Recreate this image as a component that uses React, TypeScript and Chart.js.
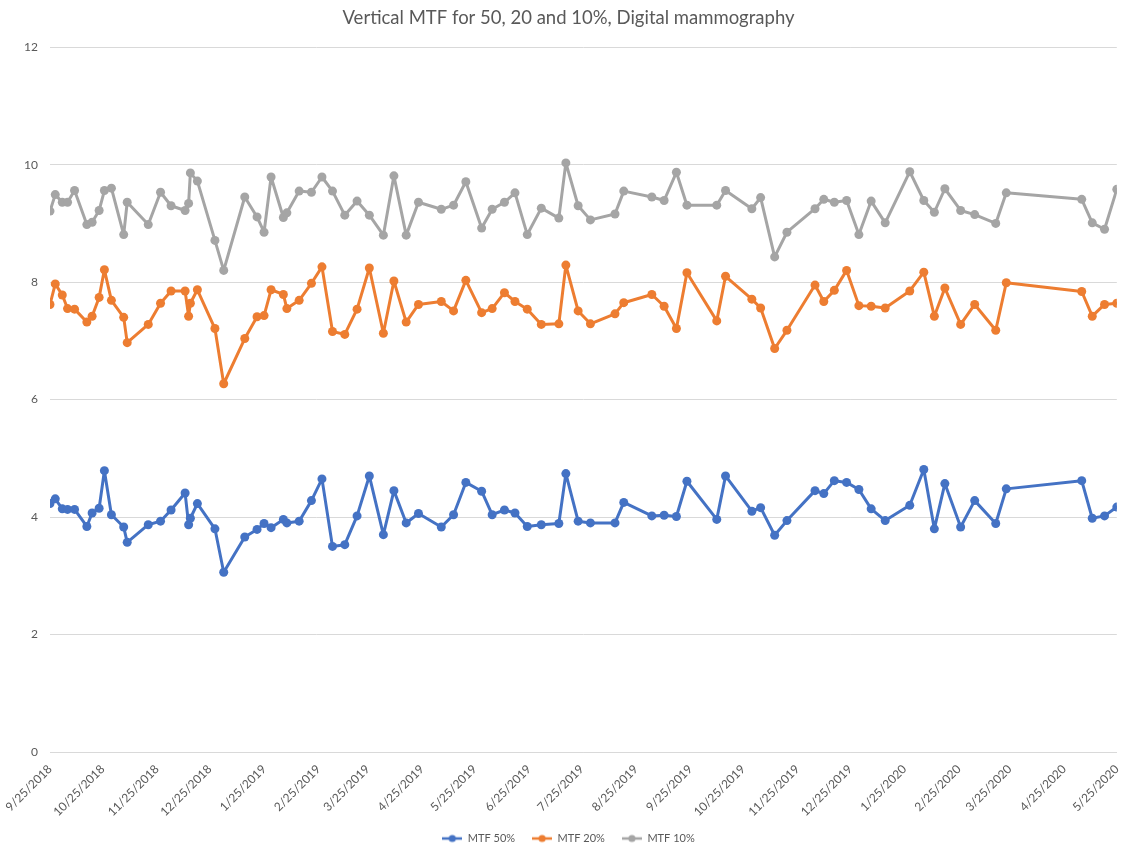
import React, { useEffect, useRef } from "react";
import { Chart, registerables } from "chart.js";

Chart.register(...registerables);

const START_DATE = "2018-09-25";

const DATES = [
  "2018-09-25", "2018-09-28", "2018-10-02", "2018-10-05", "2018-10-09", "2018-10-16", "2018-10-19", "2018-10-23",
  "2018-10-26", "2018-10-30", "2018-11-06", "2018-11-08", "2018-11-20", "2018-11-27", "2018-12-03", "2018-12-11",
  "2018-12-13", "2018-12-14", "2018-12-18", "2018-12-28", "2019-01-02", "2019-01-14", "2019-01-21", "2019-01-25",
  "2019-01-29", "2019-02-05", "2019-02-07", "2019-02-14", "2019-02-21", "2019-02-27", "2019-03-05", "2019-03-12",
  "2019-03-19", "2019-03-26", "2019-04-03", "2019-04-09", "2019-04-16", "2019-04-23", "2019-05-06", "2019-05-13",
  "2019-05-20", "2019-05-29", "2019-06-04", "2019-06-11", "2019-06-17", "2019-06-24", "2019-07-02", "2019-07-12",
  "2019-07-16", "2019-07-23", "2019-07-30", "2019-08-13", "2019-08-18", "2019-09-03", "2019-09-10", "2019-09-17",
  "2019-09-23", "2019-10-10", "2019-10-15", "2019-10-30", "2019-11-04", "2019-11-12", "2019-11-19", "2019-12-05",
  "2019-12-10", "2019-12-16", "2019-12-23", "2019-12-30", "2020-01-06", "2020-01-14", "2020-01-28", "2020-02-05",
  "2020-02-11", "2020-02-17", "2020-02-26", "2020-03-05", "2020-03-17", "2020-03-23", "2020-05-05", "2020-05-11",
  "2020-05-18", "2020-05-25",
];

const MTF50 = [
  4.23, 4.31, 4.14, 4.13, 4.13, 3.84, 4.07, 4.15, 4.79, 4.04, 3.83, 3.57, 3.87, 3.93, 4.12, 4.41,
  3.87, 3.98, 4.23, 3.80, 3.06, 3.66, 3.79, 3.89, 3.82, 3.96, 3.90, 3.93, 4.28, 4.65, 3.50, 3.53,
  4.02, 4.70, 3.70, 4.45, 3.90, 4.06, 3.83, 4.04, 4.59, 4.44, 4.04, 4.12, 4.07, 3.84, 3.87, 3.89,
  4.74, 3.93, 3.90, 3.90, 4.25, 4.02, 4.03, 4.01, 4.61, 3.96, 4.70, 4.10, 4.16, 3.69, 3.94, 4.45,
  4.40, 4.62, 4.59, 4.47, 4.14, 3.94, 4.20, 4.81, 3.80, 4.57, 3.83, 4.28, 3.89, 4.48, 4.62, 3.98,
  4.02, 4.17,
];

const MTF20 = [
  7.62, 7.97, 7.78, 7.55, 7.54, 7.32, 7.42, 7.74, 8.21, 7.69, 7.40, 6.97, 7.28, 7.64, 7.85, 7.85,
  7.42, 7.64, 7.87, 7.21, 6.27, 7.04, 7.41, 7.43, 7.87, 7.79, 7.55, 7.69, 7.98, 8.26, 7.16, 7.11,
  7.54, 8.24, 7.13, 8.02, 7.32, 7.62, 7.67, 7.51, 8.03, 7.48, 7.55, 7.82, 7.67, 7.54, 7.28, 7.29,
  8.29, 7.51, 7.29, 7.46, 7.65, 7.79, 7.59, 7.21, 8.16, 7.34, 8.10, 7.71, 7.56, 6.87, 7.18, 7.95,
  7.67, 7.86, 8.20, 7.60, 7.59, 7.56, 7.85, 8.17, 7.42, 7.90, 7.28, 7.62, 7.18, 7.99, 7.84, 7.42,
  7.62, 7.64,
];

const MTF10 = [
  9.21, 9.49, 9.36, 9.36, 9.56, 8.98, 9.02, 9.22, 9.56, 9.60, 8.81, 9.36, 8.98, 9.53, 9.30, 9.22,
  9.34, 9.86, 9.72, 8.71, 8.20, 9.45, 9.11, 8.85, 9.79, 9.10, 9.18, 9.55, 9.53, 9.79, 9.55, 9.14,
  9.38, 9.14, 8.80, 9.81, 8.80, 9.36, 9.24, 9.31, 9.71, 8.92, 9.24, 9.36, 9.52, 8.81, 9.26, 9.09,
  10.03, 9.30, 9.06, 9.16, 9.55, 9.45, 9.39, 9.87, 9.31, 9.31, 9.56, 9.25, 9.44, 8.43, 8.85, 9.25,
  9.41, 9.36, 9.39, 8.81, 9.38, 9.01, 9.88, 9.39, 9.19, 9.59, 9.22, 9.15, 9.00, 9.52, 9.41, 9.01,
  8.90, 9.58,
];

const TICK_DATES = [
  "2018-09-25", "2018-10-25", "2018-11-25", "2018-12-25", "2019-01-25", "2019-02-25", "2019-03-25",
  "2019-04-25", "2019-05-25", "2019-06-25", "2019-07-25", "2019-08-25", "2019-09-25", "2019-10-25",
  "2019-11-25", "2019-12-25", "2020-01-25", "2020-02-25", "2020-03-25", "2020-04-25", "2020-05-25",
];

const Y_TICKS = [0, 2, 4, 6, 8, 10, 12];

const SERIES_NAMES = ["MTF 50%", "MTF 20%", "MTF 10%"];
const SERIES_COLORS = ["#4472C4", "#ED7D31", "#A5A5A5"];

const TITLE = "Vertical MTF for 50, 20 and 10%, Digital mammography";

const DAY_MS = 86400000;
function parseUTC(s: string) {
  const [y, m, d] = s.split("-").map(Number);
  return Date.UTC(y, m - 1, d);
}
const START_MS = parseUTC(START_DATE);
function toDay(s: string) {
  return Math.round((parseUTC(s) - START_MS) / DAY_MS);
}
function formatDay(day: number) {
  const dt = new Date(START_MS + day * DAY_MS);
  return `${dt.getUTCMonth() + 1}/${dt.getUTCDate()}/${dt.getUTCFullYear()}`;
}

function legendMarker(color: string) {
  const c = document.createElement("canvas");
  c.width = 20;
  c.height = 10;
  const ctx = c.getContext("2d")!;
  ctx.strokeStyle = color;
  ctx.lineWidth = 2.5;
  ctx.beginPath();
  ctx.moveTo(0, 5);
  ctx.lineTo(20, 5);
  ctx.stroke();
  ctx.fillStyle = color;
  ctx.beginPath();
  ctx.arc(10, 5, 3.6, 0, Math.PI * 2);
  ctx.fill();
  return c;
}

export default function App() {
  const ref = useRef<HTMLCanvasElement | null>(null);

  useEffect(() => {
    if (!ref.current) return;
    const seriesValues = [MTF50, MTF20, MTF10];
    const days = DATES.map(toDay);
    const tickDays = TICK_DATES.map(toDay);
    const markers = SERIES_COLORS.map(legendMarker);
    const font = "Lato, 'Open Sans', sans-serif";

    const chart = new Chart(ref.current, {
      type: "line",
      data: {
        datasets: seriesValues.map((vals, i) => ({
          label: SERIES_NAMES[i],
          data: vals.map((v, j) => ({ x: days[j], y: v })),
          borderColor: SERIES_COLORS[i],
          backgroundColor: SERIES_COLORS[i],
          borderWidth: 3,
          borderJoinStyle: "round",
          borderCapStyle: "round",
          pointRadius: 4.5,
          pointHoverRadius: 4.5,
          pointBorderWidth: 0,
          tension: 0,
        })),
      },
      options: {
        responsive: false,
        animation: false,
        layout: { padding: { left: 16, right: 8, top: 0, bottom: -6 } },
        plugins: {
          title: {
            display: true,
            text: TITLE,
            color: "#595959",
            font: { family: font, size: 18.5, weight: "normal" },
            padding: { top: 7, bottom: 18 },
          },
          legend: {
            position: "bottom",
            labels: {
              usePointStyle: true,
              pointStyleWidth: 20,
              color: "#595959",
              font: { family: font, size: 11 },
              padding: 17,
              generateLabels: (ch: any) => {
                const base = Chart.defaults.plugins.legend.labels.generateLabels(ch);
                return base.map((l: any, i: number) => ({ ...l, pointStyle: markers[i] }));
              },
            },
          },
          tooltip: { enabled: false },
        },
        scales: {
          x: {
            type: "linear",
            min: tickDays[0],
            max: tickDays[tickDays.length - 1],
            grid: { display: false },
            border: { display: true, color: "#D9D9D9", width: 1 },
            afterBuildTicks: (scale: any) => {
              scale.ticks = tickDays.map((v) => ({ value: v }));
            },
            afterFit: (scale: any) => {
              scale.height = 64;
            },
            ticks: {
              autoSkip: false,
              minRotation: 45,
              maxRotation: 45,
              color: "#595959",
              font: { family: font, size: 12 },
              padding: 2,
              callback: (v: any) => formatDay(Number(v)),
            },
          },
          y: {
            min: 0,
            max: 12,
            afterBuildTicks: (scale: any) => {
              scale.ticks = Y_TICKS.map((v) => ({ value: v }));
            },
            afterFit: (scale: any) => {
              scale.width = 34;
            },
            grid: { color: "#D9D9D9", drawTicks: false },
            border: { display: false },
            ticks: {
              color: "#595959",
              font: { family: font, size: 12 },
              padding: 12,
            },
          },
        },
      },
    });
    return () => chart.destroy();
  }, []);

  return (
    <div style={{ position: "absolute", left: 0, top: 0, width: 1129, height: 848, background: "#fff" }}>
      <canvas ref={ref} width={1129} height={848} />
    </div>
  );
}
